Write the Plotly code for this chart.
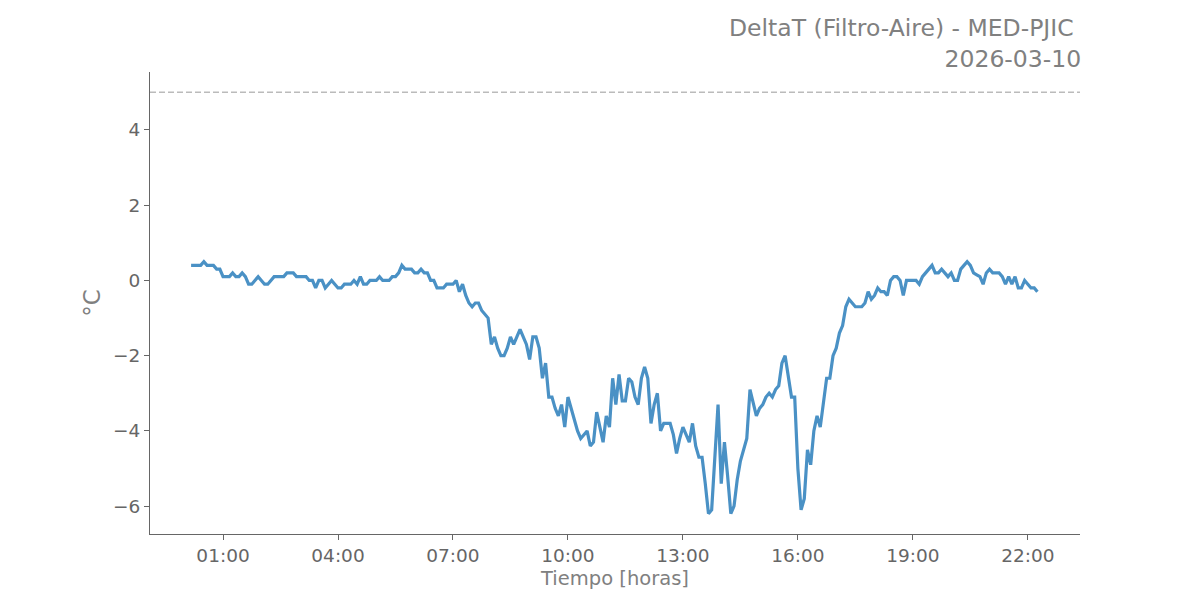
import pandas as pd
import plotly.graph_objects as go

# Series start time and 5-minute sampling
start_time = "2026-03-10 00:10"
step = "5min"

# DeltaT values (°C), one row per hour
h00 = [0.4, 0.4, 0.4, 0.4, 0.5, 0.4, 0.4, 0.4, 0.3, 0.3]
h01 = [0.1, 0.1, 0.1, 0.2, 0.1, 0.1, 0.2, 0.1, -0.1, -0.1, 0.0, 0.1]
h02 = [0.0, -0.1, -0.1, 0.0, 0.1, 0.1, 0.1, 0.1, 0.2, 0.2, 0.2, 0.1]
h03 = [0.1, 0.1, 0.1, 0.0, 0.0, -0.2, 0.0, 0.0, -0.2, -0.1, 0.0, -0.1]
h04 = [-0.2, -0.2, -0.1, -0.1, -0.1, 0.0, -0.1, 0.1, -0.1, -0.1, 0.0, 0.0]
h05 = [0.0, 0.1, 0.0, 0.0, 0.0, 0.1, 0.1, 0.2, 0.4, 0.3, 0.3, 0.3]
h06 = [0.2, 0.2, 0.3, 0.2, 0.2, 0.0, 0.0, -0.2, -0.2, -0.2, -0.1, -0.1]
h07 = [-0.1, 0.0, -0.3, -0.1, -0.4, -0.6, -0.7, -0.6, -0.6, -0.8, -0.9, -1.0]
h08 = [-1.7, -1.5, -1.8, -2.0, -2.0, -1.8, -1.5, -1.7, -1.5, -1.3, -1.5, -1.7]
h09 = [-2.1, -1.5, -1.5, -1.8, -2.6, -2.2, -3.1, -3.1, -3.4, -3.6, -3.3, -3.9]
h10 = [-3.1, -3.4, -3.7, -4.0, -4.2, -4.1, -4.0, -4.4, -4.3, -3.5, -3.9, -4.3]
h11 = [-3.6, -3.9, -2.6, -3.3, -2.5, -3.2, -3.2, -2.6, -2.7, -3.1, -3.3, -2.6]
h12 = [-2.3, -2.6, -3.8, -3.3, -3.0, -4.0, -3.8, -3.8, -3.8, -4.1, -4.6, -4.2]
h13 = [-3.9, -4.1, -4.3, -3.8, -4.4, -4.7, -4.7, -5.4, -6.2, -6.1, -4.7, -3.3]
h14 = [-5.4, -4.3, -5.2, -6.2, -6.0, -5.3, -4.8, -4.5, -4.2, -2.9, -3.3, -3.6]
h15 = [-3.4, -3.3, -3.1, -3.0, -3.1, -2.9, -2.8, -2.2, -2.0, -2.5, -3.1, -3.1]
h16 = [-5.0, -6.1, -5.8, -4.5, -4.9, -4.0, -3.6, -3.9, -3.2, -2.6, -2.6, -2.0]
h17 = [-1.8, -1.4, -1.2, -0.7, -0.5, -0.6, -0.7, -0.7, -0.7, -0.6, -0.3, -0.5]
h18 = [-0.4, -0.2, -0.3, -0.3, -0.4, 0.0, 0.1, 0.1, 0.0, -0.4, 0.0, 0.0]
h19 = [0.0, 0.0, -0.1, 0.1, 0.2, 0.3, 0.4, 0.2, 0.2, 0.3, 0.2, 0.1]
h20 = [0.2, 0.0, 0.0, 0.3, 0.4, 0.5, 0.4, 0.2, 0.15, 0.1, -0.1, 0.2]
h21 = [0.3, 0.2, 0.2, 0.2, 0.1, -0.1, 0.1, -0.1, 0.1, -0.2, -0.2, 0.0]
h22 = [-0.1, -0.2, -0.2, -0.3]

delta_t = (h00 + h01 + h02 + h03 + h04 + h05 + h06 + h07 + h08 + h09 + h10 + h11
           + h12 + h13 + h14 + h15 + h16 + h17 + h18 + h19 + h20 + h21 + h22)
times = pd.date_range(start_time, periods=len(delta_t), freq=step)

threshold = 5
title_line1 = "DeltaT (Filtro-Aire) - MED-PJIC\u00a0"
title_line2 = "2026-03-10"
x_title = "Tiempo [horas]"
y_title = "°C"
tick_times = ["2026-03-10 01:00", "2026-03-10 04:00", "2026-03-10 07:00", "2026-03-10 10:00",
              "2026-03-10 13:00", "2026-03-10 16:00", "2026-03-10 19:00", "2026-03-10 22:00"]
y_ticks = [-6, -4, -2, 0, 2, 4]

FONT = "DejaVu Sans"
TICK_COL = "#666666"
LABEL_COL = "#808080"

fig = go.Figure()
fig.add_trace(go.Scatter(x=times, y=delta_t, mode="lines",
                         line=dict(color="#4a91c5", width=3.2), showlegend=False))

fig.add_shape(type="line", xref="paper", x0=0, x1=1, yref="y", y0=threshold, y1=threshold,
              line=dict(color="#bbbbbb", width=1.5, dash="6px,3px"))

fig.update_layout(
    width=1200, height=600,
    paper_bgcolor="white", plot_bgcolor="white",
    margin=dict(l=142, r=128, t=64, b=74),
    font=dict(family=FONT, color=TICK_COL, size=18.5),
    annotations=[dict(text=title_line1 + "<br>" + title_line2, xref="paper", yref="paper",
                      x=1, y=1, xanchor="right", yanchor="bottom", align="right",
                      xshift=3, yshift=-3, showarrow=False,
                      font=dict(family=FONT, size=23.5, color=LABEL_COL))],
)

fig.update_xaxes(
    type="date",
    range=["2026-03-09 23:05:40", "2026-03-10 23:21:40"],
    tickvals=tick_times, tickformat="%H:%M",
    showgrid=False, zeroline=False,
    showline=True, linecolor=TICK_COL, linewidth=1,
    ticks="outside", ticklen=5, tickcolor=TICK_COL,
    tickfont=dict(family=FONT, size=18.5, color=TICK_COL),
    title=dict(text=x_title, font=dict(family=FONT, size=19.5, color=LABEL_COL), standoff=6),
)
fig.update_yaxes(
    range=[-6.74, 5.54],
    tickvals=y_ticks,
    showgrid=False, zeroline=False,
    showline=True, linecolor=TICK_COL, linewidth=1,
    ticks="outside", ticklen=5, tickcolor=TICK_COL,
    tickfont=dict(family=FONT, size=18.5, color=TICK_COL),
    title=dict(text=y_title, font=dict(family=FONT, size=23, color=LABEL_COL), standoff=5),
)

fig.write_html("out.html")
